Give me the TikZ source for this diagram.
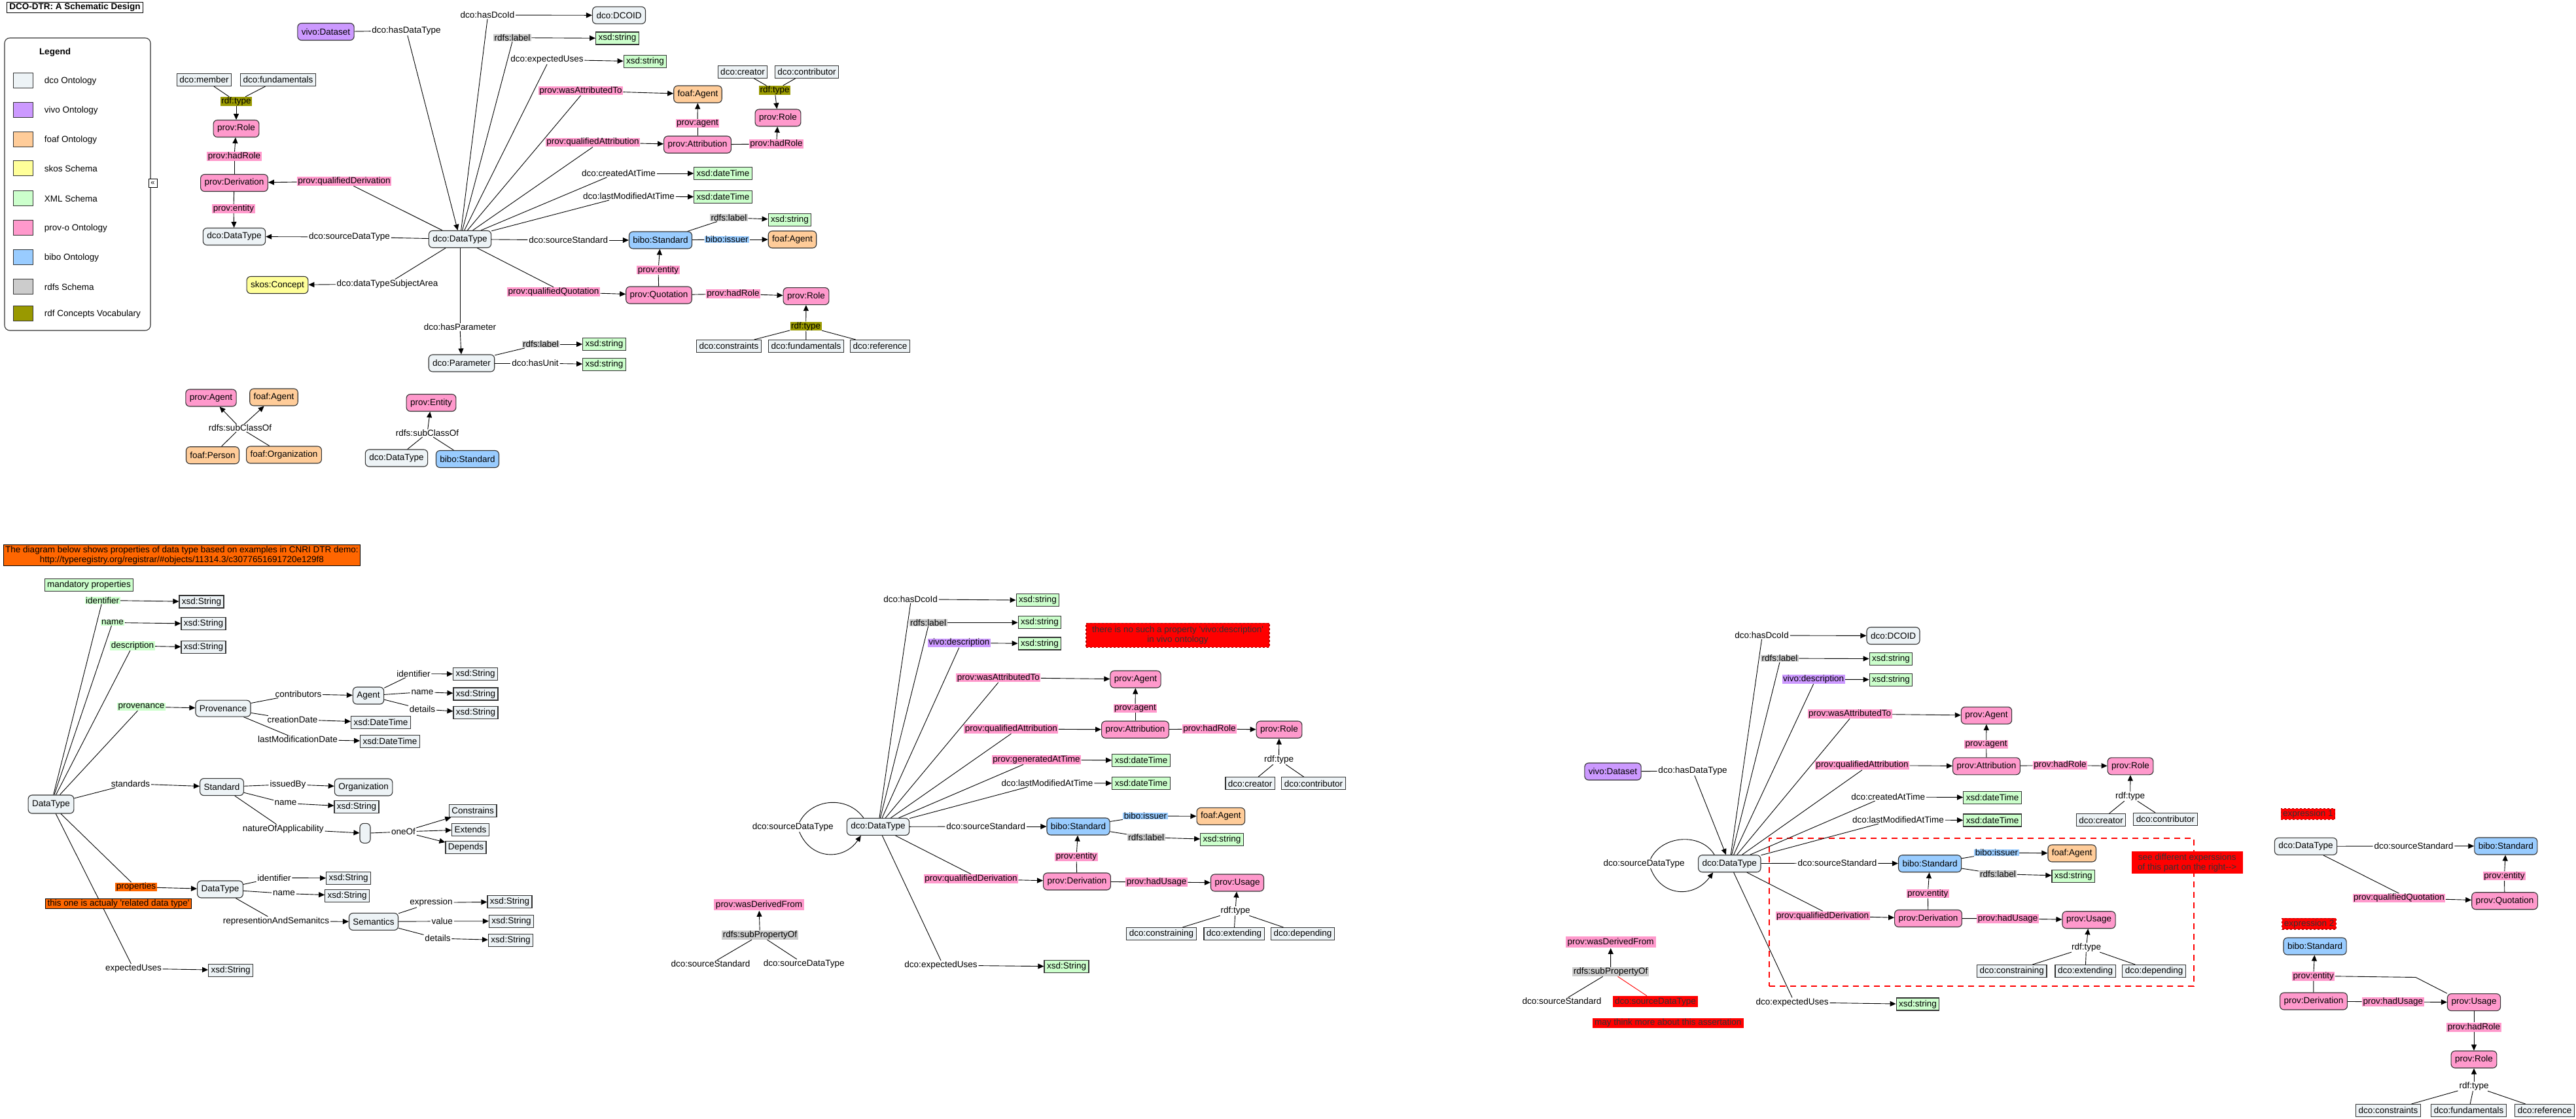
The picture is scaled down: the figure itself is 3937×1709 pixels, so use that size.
\documentclass[tikz,border=0pt]{standalone}
\usepackage{fontspec}
\setmainfont{Liberation Sans}
\usepackage{xcolor}
\usepackage{tikz}
\usetikzlibrary{arrows.meta}
\definecolor{dcoC}{RGB}{237,243,246}
\definecolor{vivoC}{RGB}{204,153,255}
\definecolor{foafC}{RGB}{255,204,153}
\definecolor{skosC}{RGB}{255,255,153}
\definecolor{xmlC}{RGB}{204,255,204}
\definecolor{provC}{RGB}{255,153,204}
\definecolor{biboC}{RGB}{153,204,255}
\definecolor{rdfsC}{RGB}{204,204,204}
\definecolor{rdfC}{RGB}{153,153,0}
\definecolor{noteC}{RGB}{255,102,0}
\definecolor{redC}{RGB}{255,0,0}
\definecolor{lineC}{RGB}{51,51,51}
\newcommand{\dtrfont}{\fontsize{13.5}{15}\selectfont}
\newcommand{\q}{\textquotesingle}
\tikzset{
    cnode/.style = {align=center, draw=lineC, line width=1.1pt, rounded corners=6pt, inner xsep=6pt, inner ysep=0pt, minimum height=26pt},
    dco_node/.style = {cnode, fill=dcoC},
    vivo_node/.style = {cnode, fill=vivoC},
    foaf_node/.style = {cnode, fill=foafC},
    skos_node/.style = {cnode, fill=skosC},
    prov_node/.style = {cnode, fill=provC},
    bibo_node/.style = {cnode, fill=biboC},
    lnode/.style = {align=center, draw=lineC, line width=1.1pt, inner xsep=4pt, inner ysep=0pt, minimum height=19pt},
    dco_lit/.style = {lnode, fill=dcoC},
    xsd_lit/.style = {lnode, fill=xmlC},
    tlbl/.style = {align=center, inner xsep=1.5pt, inner ysep=0.5pt},
    prov_lbl/.style = {tlbl, fill=provC},
    rdfs_lbl/.style = {tlbl, fill=rdfsC},
    rdf_lbl/.style = {tlbl, fill=rdfC},
    bibo_lbl/.style = {tlbl, fill=biboC},
    vivo_lbl/.style = {tlbl, fill=vivoC},
    xml_lbl/.style = {tlbl, fill=xmlC},
    orange_lbl/.style = {tlbl, fill=noteC},
    note_box/.style = {align=center, draw=black, line width=1pt, fill=noteC, inner xsep=3pt, inner ysep=2pt},
    red_box/.style = {align=center, fill=redC, text=black!80, inner xsep=3pt, inner ysep=2pt},
    red_dash/.style = {red_box, draw=red!70!black, dashed, line width=1.2pt},
    swatch/.style = {draw=lineC, line width=1pt, minimum width=30pt, minimum height=23pt, inner sep=0pt}
}
\begin{document}
\begin{tikzpicture}[x=1pt, y=-1pt, font=\dtrfont, line width=0.9pt, >={Triangle[length=9pt,width=8pt]}]
\useasboundingbox (0,0) rectangle (3937,1709);
% title and legend
\node [draw=black, line width=1pt, inner xsep=4pt, inner ysep=2pt, font=\dtrfont\bfseries] (title) at (114.5,11.5) {DCO-DTR: A Schematic Design};
\node [draw=lineC, line width=1.1pt, rounded corners=8pt, minimum width=223pt, minimum height=447pt] (legend) at (118.5,281.5) {};
\node [font=\dtrfont\bfseries] (leg_title) at (84,80) {Legend};
\node [swatch, fill=dcoC] (sw_dco) at (35,123) {};
\node [anchor=west] (lt_dco) at (64,124) {dco Ontology};
\node [swatch, fill=vivoC] (sw_vivo) at (35,168) {};
\node [anchor=west] (lt_vivo) at (64,169) {vivo Ontology};
\node [swatch, fill=foafC] (sw_foaf) at (35,213) {};
\node [anchor=west] (lt_foaf) at (64,214) {foaf Ontology};
\node [swatch, fill=skosC] (sw_skos) at (35,257) {};
\node [anchor=west] (lt_skos) at (64,258) {skos Schema};
\node [swatch, fill=xmlC] (sw_xml) at (35,303) {};
\node [anchor=west] (lt_xml) at (64,304) {XML Schema};
\node [swatch, fill=provC] (sw_prov) at (35,348) {};
\node [anchor=west] (lt_prov) at (64,349) {prov-o Ontology};
\node [swatch, fill=biboC] (sw_bibo) at (35,393) {};
\node [anchor=west] (lt_bibo) at (64,394) {bibo Ontology};
\node [swatch, fill=rdfsC] (sw_rdfs) at (35,438) {};
\node [anchor=west] (lt_rdfs) at (64,439) {rdfs Schema};
\node [swatch, fill=rdfC] (sw_rdf) at (35,479) {};
\node [anchor=west] (lt_rdf) at (64,480) {rdf Concepts Vocabulary};
\node [draw=black, fill=white, line width=0.8pt, inner sep=0.5pt, minimum size=13pt, font=\fontsize{11}{11}\selectfont] (leg_icon) at (233.5,280) {«};
% top part
\node [dco_lit] (t_member) at (312,122) {dco:member};
\node [dco_lit] (t_fund) at (425,122) {dco:fundamentals};
\node [rdf_lbl] (t_type1) at (361,155) {rdf:type};
\node [prov_node] (t_role1) at (361,196.5) {prov:Role};
\node [prov_lbl] (t_hadrole1) at (358,239) {prov:hadRole};
\node [prov_node] (t_deriv) at (358,279.5) {prov:Derivation};
\node [prov_lbl] (t_qderiv) at (526,277) {prov:qualifiedDerivation};
\node [prov_lbl] (t_entity1) at (357,319) {prov:entity};
\node [dco_node] (t_dt1) at (358,361.5) {dco:DataType};
\node [tlbl] (t_sdt) at (534,362) {dco:sourceDataType};
\node [dco_node] (t_dt) at (703,365.5) {dco:DataType};
\node [vivo_node] (t_vivo) at (498,48.5) {vivo:Dataset};
\node [tlbl] (t_hdt) at (621,47) {dco:hasDataType};
\node [tlbl] (t_hasid) at (745,23) {dco:hasDcoId};
\node [dco_node] (t_dcoid) at (946,23.4) {dco:DCOID};
\node [rdfs_lbl] (t_label1) at (783,57.6) {rdfs:label};
\node [xsd_lit] (t_str1) at (943.5,58.5) {xsd:string};
\node [tlbl] (t_uses) at (836,91) {dco:expectedUses};
\node [xsd_lit] (t_str2) at (986,94) {xsd:string};
\node [prov_lbl] (t_attto) at (887.5,138.7) {prov:wasAttributedTo};
\node [foaf_node] (t_agent) at (1066.5,144) {foaf:Agent};
\node [prov_lbl] (t_qattr) at (906,217.5) {prov:qualifiedAttribution};
\node [prov_node] (t_attr) at (1066,221) {prov:Attribution};
\node [prov_lbl] (t_agentp) at (1066,188.5) {prov:agent};
\node [prov_lbl] (t_hadrole2) at (1186.6,220) {prov:hadRole};
\node [prov_node] (t_role2) at (1189,180) {prov:Role};
\node [rdf_lbl] (t_type2) at (1184,138) {rdf:type};
\node [dco_lit] (t_creator) at (1135,110) {dco:creator};
\node [dco_lit] (t_contrib) at (1233,110) {dco:contributor};
\node [tlbl] (t_created) at (945.5,265) {dco:createdAtTime};
\node [xsd_lit] (t_dtime1) at (1105,265) {xsd:dateTime};
\node [tlbl] (t_lastmod) at (961,300) {dco:lastModifiedAtTime};
\node [xsd_lit] (t_dtime2) at (1105,301) {xsd:dateTime};
\node [tlbl] (t_srcstd) at (868.7,367) {dco:sourceStandard};
\node [bibo_node] (t_std) at (1009.5,367) {bibo:Standard};
\node [rdfs_lbl] (t_label2) at (1114,332.7) {rdfs:label};
\node [xsd_lit] (t_str3) at (1207,336) {xsd:string};
\node [bibo_lbl] (t_issuer) at (1111,366) {bibo:issuer};
\node [foaf_node] (t_agent2) at (1211,366) {foaf:Agent};
\node [prov_lbl] (t_entity2) at (1006,412.6) {prov:entity};
\node [prov_node] (t_quot) at (1007,451) {prov:Quotation};
\node [prov_lbl] (t_qquot) at (846,446) {prov:qualifiedQuotation};
\node [prov_lbl] (t_hadrole3) at (1120.5,449) {prov:hadRole};
\node [prov_node] (t_role3) at (1232,452.6) {prov:Role};
\node [rdf_lbl] (t_type3) at (1231.7,498.5) {rdf:type};
\node [dco_lit] (t_constr) at (1114,529) {dco:constraints};
\node [dco_lit] (t_fund2) at (1232,529) {dco:fundamentals};
\node [dco_lit] (t_ref) at (1345,529) {dco:reference};
\node [tlbl] (t_hasparam) at (703,500) {dco:hasParameter};
\node [dco_node] (t_param) at (705.5,555) {dco:Parameter};
\node [rdfs_lbl] (t_label3) at (826.5,526) {rdfs:label};
\node [xsd_lit] (t_str4) at (923.5,526) {xsd:string};
\node [tlbl] (t_unit) at (818,555) {dco:hasUnit};
\node [xsd_lit] (t_str5) at (923.5,556.7) {xsd:string};
\node [tlbl] (t_subj) at (592,434) {dco:dataTypeSubjectArea};
\node [skos_node] (t_concept) at (424,435.5) {skos:Concept};
\node [prov_node] (t_pagent) at (322.5,608) {prov:Agent};
\node [foaf_node] (t_fagent) at (418.5,607) {foaf:Agent};
\node [tlbl] (t_sub1) at (367,654) {rdfs:subClassOf};
\node [foaf_node] (t_person) at (325,695.7) {foaf:Person};
\node [foaf_node] (t_org) at (434,695) {foaf:Organization};
\node [prov_node] (t_pentity) at (659,615.5) {prov:Entity};
\node [tlbl] (t_sub2) at (653,662) {rdfs:subClassOf};
\node [dco_node] (t_dt2) at (606,700) {dco:DataType};
\node [bibo_node] (t_std2) at (714.5,701.5) {bibo:Standard};
\draw (t_member) -- (t_type1);
\draw (t_fund) -- (t_type1);
\draw [->] (t_type1) -- (t_role1);
\draw (t_deriv) -- (t_hadrole1);
\draw [->] (t_hadrole1) -- (t_role1);
\draw (t_dt) -- (t_qderiv);
\draw [->] (t_qderiv) -- (t_deriv);
\draw (t_deriv) -- (t_entity1);
\draw [->] (t_entity1) -- (t_dt1);
\draw (t_dt) -- (t_sdt);
\draw [->] (t_sdt) -- (t_dt1);
\draw (t_vivo) -- (t_hdt);
\draw [->] (t_hdt) -- (t_dt);
\draw (t_dt) -- (t_hasid.south);
\draw [->] (t_hasid) -- (t_dcoid);
\draw (t_dt) -- (t_label1.south);
\draw [->] (t_label1) -- (t_str1);
\draw (t_dt) -- (t_uses.south);
\draw [->] (t_uses) -- (t_str2);
\draw (t_dt) -- (t_attto.south);
\draw [->] (t_attto) -- (t_agent);
\draw (t_dt) -- (t_qattr.south);
\draw [->] (t_qattr) -- (t_attr);
\draw (t_attr) -- (t_agentp);
\draw [->] (t_agentp) -- (t_agent);
\draw (t_attr) -- (t_hadrole2);
\draw [->] (t_hadrole2) -- (t_role2);
\draw (t_creator) -- (t_type2);
\draw (t_contrib) -- (t_type2);
\draw [->] (t_type2) -- (t_role2);
\draw (t_dt) -- ([xshift=-18pt]t_created.south);
\draw [->] (t_created) -- (t_dtime1);
\draw (t_dt) -- ([xshift=-30pt]t_lastmod.south);
\draw [->] (t_lastmod) -- (t_dtime2);
\draw (t_dt) -- (t_srcstd);
\draw [->] (t_srcstd) -- (t_std);
\draw (t_std) -- (t_label2);
\draw [->] (t_label2) -- (t_str3);
\draw (t_std) -- (t_issuer);
\draw [->] (t_issuer) -- (t_agent2);
\draw (t_quot) -- (t_entity2);
\draw [->] (t_entity2) -- (t_std);
\draw (t_dt) -- (t_qquot.north);
\draw [->] (t_qquot) -- (t_quot);
\draw (t_quot) -- (t_hadrole3);
\draw [->] (t_hadrole3) -- (t_role3);
\draw [->] (t_type3) -- (t_role3);
\draw (t_constr) -- (t_type3);
\draw (t_fund2) -- (t_type3);
\draw (t_ref) -- (t_type3);
\draw (t_dt) -- (t_hasparam);
\draw [->] (t_hasparam) -- (t_param);
\draw (t_param) -- (t_label3);
\draw [->] (t_label3) -- (t_str4);
\draw (t_param) -- (t_unit);
\draw [->] (t_unit) -- (t_str5);
\draw (t_dt) -- (t_subj);
\draw [->] (t_subj) -- (t_concept);
\draw (t_person) -- (t_sub1);
\draw (t_org) -- (t_sub1);
\draw [->] (t_sub1) -- (t_pagent);
\draw [->] (t_sub1) -- (t_fagent);
\draw (t_dt2) -- (t_sub2);
\draw (t_std2) -- (t_sub2);
\draw [->] (t_sub2) -- (t_pentity);
% bottom left, CNRI DTR demo
\node [note_box] (b_note) at (278,848.5) {The diagram below shows properties of data type based on examples in CNRI DTR demo:\\http://typeregistry.org/registrar/\#objects/11314.3/c3077651691720e129f8};
\node [xsd_lit] (b_mand) at (136,894) {mandatory properties};
\node [xml_lbl] (b_id) at (156.6,917.4) {identifier};
\node [dco_lit] (b_s1) at (308,919.5) {xsd:String};
\node [xml_lbl] (b_name) at (172,951.4) {name};
\node [dco_lit] (b_s2) at (311,953.3) {xsd:String};
\node [xml_lbl] (b_desc) at (202.6,987) {description};
\node [dco_lit] (b_s3) at (311,989) {xsd:String};
\node [xml_lbl] (b_prov) at (216,1080) {provenance};
\node [dco_node, minimum height=25pt] (b_provn) at (341,1082.6) {Provenance};
\node [tlbl] (b_contr) at (456,1060.6) {contributors};
\node [dco_node] (b_agent) at (563,1063) {Agent};
\node [tlbl] (b_aid) at (632,1029.6) {identifier};
\node [dco_lit] (b_s4) at (726.6,1030) {xsd:String};
\node [tlbl] (b_aname) at (645.5,1057.5) {name};
\node [dco_lit] (b_s5) at (727,1060.5) {xsd:String};
\node [tlbl] (b_adet) at (645.5,1083.8) {details};
\node [dco_lit] (b_s6) at (727,1089) {xsd:String};
\node [tlbl] (b_cdate) at (447,1099.5) {creationDate};
\node [dco_lit] (b_dt1) at (582,1104) {xsd:DateTime};
\node [tlbl] (b_lmdate) at (455,1130) {lastModificationDate};
\node [dco_lit] (b_dt2) at (596,1133) {xsd:DateTime};
\node [dco_node, minimum height=28pt] (b_root) at (78,1229) {DataType};
\node [tlbl] (b_stds) at (199.5,1197.7) {standards};
\node [dco_node] (b_std) at (339,1202.6) {Standard};
\node [tlbl] (b_issued) at (440,1198.6) {issuedBy};
\node [dco_node] (b_org) at (555.6,1203) {Organization};
\node [tlbl] (b_sname) at (436.5,1227.4) {name};
\node [dco_lit] (b_s7) at (545,1233) {xsd:String};
\node [tlbl] (b_nature) at (432.8,1266.7) {natureOfApplicability};
\node [dco_node, minimum width=16pt, minimum height=30pt, inner sep=0pt] (b_blank) at (558,1273.3) {};
\node [tlbl] (b_oneof) at (616.4,1271) {oneOf};
\node [dco_lit] (b_constr) at (722.7,1239) {Constrains};
\node [dco_lit] (b_ext) at (719,1267.6) {Extends};
\node [dco_lit] (b_dep) at (712,1295) {Depends};
\node [orange_lbl] (b_props) at (208,1355.4) {properties};
\node [dco_node] (b_dt) at (336.5,1359) {DataType};
\node [tlbl] (b_pid) at (419,1341.4) {identifier};
\node [dco_lit] (b_s8) at (532.7,1342) {xsd:String};
\node [tlbl] (b_pname) at (434,1365.4) {name};
\node [dco_lit] (b_s9) at (530.7,1368.7) {xsd:String};
\node [tlbl] (b_rep) at (422,1407.8) {representionAndSemanitcs};
\node [dco_node] (b_sem) at (571,1408.4) {Semantics};
\node [tlbl] (b_expr) at (659,1379.4) {expression};
\node [dco_lit] (b_s10) at (779,1378) {xsd:String};
\node [tlbl] (b_val) at (675.7,1407.8) {value};
\node [dco_lit] (b_s11) at (781.5,1407.6) {xsd:String};
\node [tlbl] (b_sdet) at (669,1434) {details};
\node [dco_lit] (b_s12) at (780.5,1437) {xsd:String};
\node [tlbl] (b_uses) at (204,1480) {expectedUses};
\node [dco_lit] (b_s13) at (352.6,1482.6) {xsd:String};
\draw (b_root) -- (b_id);
\draw [->] (b_id) -- (b_s1);
\draw (b_root) -- (b_name);
\draw [->] (b_name) -- (b_s2);
\draw (b_root) -- (b_desc);
\draw [->] (b_desc) -- (b_s3);
\draw (b_root) -- (b_prov);
\draw [->] (b_prov) -- (b_provn);
\draw (b_provn) -- (b_contr);
\draw [->] (b_contr) -- (b_agent);
\draw (b_agent) -- (b_aid);
\draw [->] (b_aid) -- (b_s4);
\draw (b_agent) -- (b_aname);
\draw [->] (b_aname) -- (b_s5);
\draw (b_agent) -- (b_adet);
\draw [->] (b_adet) -- (b_s6);
\draw (b_provn) -- (b_cdate);
\draw [->] (b_cdate) -- (b_dt1);
\draw (b_provn) -- (b_lmdate);
\draw [->] (b_lmdate) -- (b_dt2);
\draw (b_root) -- (b_stds);
\draw [->] (b_stds) -- (b_std);
\draw (b_std) -- (b_issued);
\draw [->] (b_issued) -- (b_org);
\draw (b_std) -- (b_sname);
\draw [->] (b_sname) -- (b_s7);
\draw (b_std) -- (b_nature);
\draw [->] (b_nature) -- (b_blank);
\draw (b_blank) -- (b_oneof);
\draw [->] (b_oneof) -- (b_constr);
\draw [->] (b_oneof) -- (b_ext);
\draw [->] (b_oneof) -- (b_dep);
\draw (b_root) -- (b_props);
\draw [->] (b_props) -- (b_dt);
\draw (b_dt) -- (b_pid);
\draw [->] (b_pid) -- (b_s8);
\draw (b_dt) -- (b_pname);
\draw [->] (b_pname) -- (b_s9);
\draw (b_dt) -- (b_rep);
\draw [->] (b_rep) -- (b_sem);
\draw (b_sem) -- (b_expr);
\draw [->] (b_expr) -- (b_s10);
\draw (b_sem) -- (b_val);
\draw [->] (b_val) -- (b_s11);
\draw (b_sem) -- (b_sdet);
\draw [->] (b_sdet) -- (b_s12);
\draw (b_root) -- (b_uses);
\draw [->] (b_uses) -- (b_s13);
\node [note_box, inner ysep=1pt] (b_rel) at (181,1381) {this one is actualy \q related data type\q};
% bottom middle
\node [dco_node] (c_dt) at (1342,1263.4) {dco:DataType};
\node [tlbl] (c_sdt) at (1211.7,1264) {dco:sourceDataType};
\node [tlbl] (c_hasid) at (1391.7,915.7) {dco:hasDcoId};
\node [xsd_lit] (c_str1) at (1586,917.3) {xsd:string};
\node [rdfs_lbl] (c_label1) at (1418.6,951.4) {rdfs:label};
\node [xsd_lit] (c_str2) at (1589,951.4) {xsd:string};
\node [vivo_lbl] (c_desc) at (1465.8,982.4) {vivo:description};
\node [xsd_lit] (c_str3) at (1589,983.5) {xsd:string};
\node [red_dash, minimum width=280pt, minimum height=37pt] (c_note) at (1800,970.6) {there is no such a property \q vivo:description\q\\in vivo ontology};
\node [prov_lbl] (c_attto) at (1525.8,1035.6) {prov:wasAttributedTo};
\node [prov_node] (c_pagent) at (1735.5,1038) {prov:Agent};
\node [prov_lbl] (c_agentp) at (1735,1082.4) {prov:agent};
\node [prov_lbl] (c_qattr) at (1545.4,1114) {prov:qualifiedAttribution};
\node [prov_node] (c_attr) at (1735,1115) {prov:Attribution};
\node [prov_lbl] (c_hadrole) at (1848.5,1114) {prov:hadRole};
\node [prov_node] (c_role) at (1955,1115) {prov:Role};
\node [tlbl] (c_type1) at (1954.5,1161) {rdf:type};
\node [dco_lit] (c_creator) at (1910.7,1197.4) {dco:creator};
\node [dco_lit] (c_contrib) at (2007.5,1197.4) {dco:contributor};
\node [prov_lbl] (c_gen) at (1584,1161) {prov:generatedAtTime};
\node [xsd_lit] (c_dtime1) at (1744,1162) {xsd:dateTime};
\node [tlbl] (c_lastmod) at (1600.5,1196.7) {dco:lastModifiedAtTime};
\node [xsd_lit] (c_dtime2) at (1744,1197) {xsd:dateTime};
\node [tlbl] (c_srcstd) at (1506.8,1263) {dco:sourceStandard};
\node [bibo_node] (c_std) at (1648,1263) {bibo:Standard};
\node [bibo_lbl] (c_issuer) at (1750.5,1247) {bibo:issuer};
\node [foaf_node] (c_agent) at (1865.8,1247.4) {foaf:Agent};
\node [rdfs_lbl] (c_label2) at (1751.7,1279.6) {rdfs:label};
\node [xsd_lit] (c_str4) at (1867.6,1283) {xsd:string};
\node [prov_lbl] (c_entity) at (1645,1309.4) {prov:entity};
\node [prov_node] (c_deriv) at (1646,1347) {prov:Derivation};
\node [prov_lbl] (c_qderiv) at (1484,1343) {prov:qualifiedDerivation};
\node [prov_lbl] (c_hadusage) at (1767.7,1348) {prov:hadUsage};
\node [prov_node] (c_usage) at (1891,1349) {prov:Usage};
\node [tlbl] (c_type2) at (1888,1392) {rdf:type};
\node [dco_lit] (c_constr) at (1775,1427) {dco:constraining};
\node [dco_lit] (c_ext) at (1886,1427) {dco:extending};
\node [dco_lit] (c_dep) at (1991,1427) {dco:depending};
\node [tlbl] (c_uses) at (1438,1475) {dco:expectedUses};
\node [xsd_lit] (c_str5) at (1630,1477) {xsd:String};
\node [prov_lbl, inner xsep=3pt, inner ysep=2.5pt] (c_derfrom) at (1160,1382.5) {prov:wasDerivedFrom};
\node [rdfs_lbl] (c_subprop) at (1161.4,1428.8) {rdfs:subPropertyOf};
\node [tlbl] (c_ss) at (1086,1473) {dco:sourceStandard};
\node [tlbl] (c_sdt2) at (1228.8,1473) {dco:sourceDataType};
\draw ([xshift=26pt]c_dt.north west) .. controls (1295,1215) and (1240,1220) .. ([xshift=10pt]c_sdt.north);
\draw [->] ([xshift=10pt]c_sdt.south) .. controls (1240,1315) and (1290,1315) .. ([xshift=22pt]c_dt.south west);
\draw (c_dt) -- (c_hasid.south);
\draw [->] (c_hasid) -- (c_str1);
\draw (c_dt) -- (c_label1.south);
\draw [->] (c_label1) -- (c_str2);
\draw (c_dt) -- (c_desc.south);
\draw [->] (c_desc) -- (c_str3);
\draw (c_dt) -- (c_attto.south);
\draw [->] (c_attto) -- (c_pagent);
\draw (c_dt) -- (c_qattr.south);
\draw [->] (c_qattr) -- (c_attr);
\draw (c_attr) -- (c_agentp);
\draw [->] (c_agentp) -- (c_pagent);
\draw (c_attr) -- (c_hadrole);
\draw [->] (c_hadrole) -- (c_role);
\draw [->] (c_type1) -- (c_role);
\draw (c_creator) -- (c_type1);
\draw (c_contrib) -- (c_type1);
\draw (c_dt) -- ([xshift=-20pt]c_gen.south);
\draw [->] (c_gen) -- (c_dtime1);
\draw (c_dt) -- ([xshift=-30pt]c_lastmod.south);
\draw [->] (c_lastmod) -- (c_dtime2);
\draw (c_dt) -- (c_srcstd);
\draw [->] (c_srcstd) -- (c_std);
\draw (c_std) -- (c_issuer);
\draw [->] (c_issuer) -- (c_agent);
\draw (c_std) -- (c_label2);
\draw [->] (c_label2) -- (c_str4);
\draw (c_deriv) -- (c_entity);
\draw [->] (c_entity) -- (c_std);
\draw (c_dt) -- (c_qderiv.north);
\draw [->] (c_qderiv) -- (c_deriv);
\draw (c_deriv) -- (c_hadusage);
\draw [->] (c_hadusage) -- (c_usage);
\draw [->] (c_type2) -- (c_usage);
\draw (c_constr) -- (c_type2);
\draw (c_ext) -- (c_type2);
\draw (c_dep) -- (c_type2);
\draw (c_dt) -- (c_uses.north);
\draw [->] (c_uses) -- (c_str5);
\draw [->] (c_subprop) -- (c_derfrom);
\draw (c_ss) -- (c_subprop);
\draw (c_sdt2) -- (c_subprop);
% bottom right
\node [draw=redC, line width=2pt, dash pattern=on 9pt off 7pt, minimum width=649pt, minimum height=226pt] (d_frame) at (3028.5,1394) {};
\node [tlbl] (d_hasid) at (2692.5,971) {dco:hasDcoId};
\node [dco_node] (d_dcoid) at (2893.5,971.5) {dco:DCOID};
\node [rdfs_lbl] (d_label1) at (2720,1006) {rdfs:label};
\node [xsd_lit] (d_str1) at (2890,1006.7) {xsd:string};
\node [vivo_lbl] (d_desc) at (2771.6,1038) {vivo:description};
\node [xsd_lit] (d_str2) at (2890,1038.7) {xsd:string};
\node [prov_lbl] (d_attto) at (2827,1091) {prov:wasAttributedTo};
\node [prov_node] (d_pagent) at (3036,1093.3) {prov:Agent};
\node [prov_lbl] (d_agentp) at (3035.6,1137.6) {prov:agent};
\node [prov_lbl] (d_qattr) at (2846,1169.4) {prov:qualifiedAttribution};
\node [prov_node] (d_attr) at (3036,1170.8) {prov:Attribution};
\node [prov_lbl] (d_hadrole) at (3148.5,1169.4) {prov:hadRole};
\node [prov_node] (d_role) at (3256,1170.8) {prov:Role};
\node [tlbl] (d_type1) at (3255.6,1216.9) {rdf:type};
\node [dco_lit] (d_creator) at (3211,1253.3) {dco:creator};
\node [dco_lit] (d_contrib) at (3309.5,1252) {dco:contributor};
\node [tlbl] (d_created) at (2885.7,1218) {dco:createdAtTime};
\node [xsd_lit] (d_dtime1) at (3045,1218.6) {xsd:dateTime};
\node [tlbl] (d_lastmod) at (2901,1253) {dco:lastModifiedAtTime};
\node [xsd_lit] (d_dtime2) at (3045,1253.5) {xsd:dateTime};
\node [vivo_node] (d_vivo) at (2465,1179) {vivo:Dataset};
\node [tlbl] (d_hdt) at (2587,1178) {dco:hasDataType};
\node [dco_node] (d_dt) at (2643.3,1319.7) {dco:DataType};
\node [tlbl] (d_sdt) at (2512.6,1319.8) {dco:sourceDataType};
\node [tlbl] (d_srcstd) at (2808,1319) {dco:sourceStandard};
\node [bibo_node] (d_std) at (2949.5,1319.7) {bibo:Standard};
\node [bibo_lbl] (d_issuer) at (3051.5,1303) {bibo:issuer};
\node [foaf_node] (d_agent) at (3166.7,1304) {foaf:Agent};
\node [rdfs_lbl] (d_label2) at (3053.4,1335.5) {rdfs:label};
\node [xsd_lit] (d_str3) at (3168.8,1338.7) {xsd:string};
\node [prov_lbl] (d_entity) at (2946.3,1365.6) {prov:entity};
\node [prov_node] (d_deriv) at (2947,1403.5) {prov:Derivation};
\node [prov_lbl] (d_qderiv) at (2785.6,1399.5) {prov:qualifiedDerivation};
\node [prov_lbl] (d_hadusage) at (3068.7,1403.7) {prov:hadUsage};
\node [prov_node] (d_usage) at (3192.5,1405.7) {prov:Usage};
\node [tlbl] (d_type2) at (3188.6,1447.8) {rdf:type};
\node [dco_lit] (d_constr) at (3074.8,1484) {dco:constraining};
\node [dco_lit] (d_ext) at (3187,1484) {dco:extending};
\node [dco_lit] (d_dep) at (3292,1484) {dco:depending};
\node [tlbl] (d_uses) at (2739,1531.7) {dco:expectedUses};
\node [xsd_lit] (d_str4) at (2931,1534.5) {xsd:string};
\node [prov_lbl, inner xsep=3pt, inner ysep=2.5pt] (d_derfrom) at (2461.7,1439.6) {prov:wasDerivedFrom};
\node [rdfs_lbl] (d_subprop) at (2461.6,1485) {rdfs:subPropertyOf};
\node [tlbl] (d_ss) at (2387,1530) {dco:sourceStandard};
\node [red_box] (d_sdt2) at (2530,1530.5) {dco:sourceDataType};
\node [red_box, inner ysep=1.5pt] (d_may) at (2549.3,1563.4) {may think more about this assertation};
\draw ([xshift=25pt]d_dt.north west) .. controls (2600,1272) and (2540,1276) .. ([xshift=10pt]d_sdt.north);
\draw [->] ([xshift=10pt]d_sdt.south) .. controls (2540,1372) and (2590,1372) .. ([xshift=23pt]d_dt.south west);
\draw (d_vivo) -- (d_hdt);
\draw [->] (d_hdt) -- (d_dt);
\draw (d_dt) -- (d_hasid.south);
\draw [->] (d_hasid) -- (d_dcoid);
\draw (d_dt) -- (d_label1.south);
\draw [->] (d_label1) -- (d_str1);
\draw (d_dt) -- (d_desc.south);
\draw [->] (d_desc) -- (d_str2);
\draw (d_dt) -- (d_attto.south);
\draw [->] (d_attto) -- (d_pagent);
\draw (d_dt) -- (d_qattr.south);
\draw [->] (d_qattr) -- (d_attr);
\draw (d_attr) -- (d_agentp);
\draw [->] (d_agentp) -- (d_pagent);
\draw (d_attr) -- (d_hadrole);
\draw [->] (d_hadrole) -- (d_role);
\draw [->] (d_type1) -- (d_role);
\draw (d_creator) -- (d_type1);
\draw (d_contrib) -- (d_type1);
\draw (d_dt) -- ([xshift=-20pt]d_created.south);
\draw [->] (d_created) -- (d_dtime1);
\draw (d_dt) -- ([xshift=-30pt]d_lastmod.south);
\draw [->] (d_lastmod) -- (d_dtime2);
\draw (d_dt) -- (d_srcstd);
\draw [->] (d_srcstd) -- (d_std);
\draw (d_std) -- (d_issuer);
\draw [->] (d_issuer) -- (d_agent);
\draw (d_std) -- (d_label2);
\draw [->] (d_label2) -- (d_str3);
\draw (d_deriv) -- (d_entity);
\draw [->] (d_entity) -- (d_std);
\draw (d_dt) -- (d_qderiv.north);
\draw [->] (d_qderiv) -- (d_deriv);
\draw (d_deriv) -- (d_hadusage);
\draw [->] (d_hadusage) -- (d_usage);
\draw [->] (d_type2) -- (d_usage);
\draw (d_constr) -- (d_type2);
\draw (d_ext) -- (d_type2);
\draw (d_dep) -- (d_type2);
\draw (d_dt) -- (d_uses.north);
\draw [->] (d_uses) -- (d_str4);
\draw [->] (d_subprop) -- (d_derfrom);
\draw (d_ss) -- (d_subprop);
\draw [redC] (d_sdt2) -- (d_subprop);
\node [red_box, minimum width=170pt, minimum height=34pt] (d_note) at (3342.7,1318) {see different experssions\\of this part on the right{-}{-}>};
% far right, two expressions
\node [red_dash] (e_expr1) at (3527.4,1244) {expression 1};
\node [dco_node] (e_dt) at (3524,1293.4) {dco:DataType};
\node [tlbl] (e_srcstd) at (3689,1292.8) {dco:sourceStandard};
\node [bibo_node] (e_std) at (3829.8,1293) {bibo:Standard};
\node [prov_lbl] (e_entity1) at (3827.4,1338.5) {prov:entity};
\node [prov_node] (e_quot) at (3828,1376.7) {prov:Quotation};
\node [prov_lbl] (e_qquot) at (3666.4,1372.4) {prov:qualifiedQuotation};
\node [red_dash] (e_expr2) at (3529,1411.7) {expression 2};
\node [bibo_node] (e_std2) at (3538,1446) {bibo:Standard};
\node [prov_lbl] (e_entity2) at (3535.7,1491.8) {prov:entity};
\node [prov_node] (e_deriv) at (3536,1530) {prov:Derivation};
\node [prov_lbl] (e_hadusage) at (3657.4,1531) {prov:hadUsage};
\node [prov_node] (e_usage) at (3781,1531.6) {prov:Usage};
\node [prov_lbl] (e_hadrole) at (3781,1569.7) {prov:hadRole};
\node [prov_node] (e_role) at (3781,1619) {prov:Role};
\node [tlbl] (e_type) at (3781,1660) {rdf:type};
\node [dco_lit] (e_constr) at (3650,1697) {dco:constraints};
\node [dco_lit] (e_fund) at (3773,1697) {dco:fundamentals};
\node [dco_lit] (e_ref) at (3889,1697) {dco:reference};
\coordinate (e_bend) at (3692,1493.5);
\draw (e_dt) -- (e_srcstd);
\draw [->] (e_srcstd) -- (e_std);
\draw (e_quot) -- (e_entity1);
\draw [->] (e_entity1) -- (e_std);
\draw (e_dt) -- (e_qquot.north);
\draw [->] (e_qquot) -- (e_quot);
\draw (e_deriv) -- (e_entity2);
\draw [->] (e_entity2) -- (e_std2);
\draw (e_entity2.east) -- (e_bend) -- (e_usage.north west);
\draw (e_deriv) -- (e_hadusage);
\draw [->] (e_hadusage) -- (e_usage);
\draw (e_usage) -- (e_hadrole);
\draw [->] (e_hadrole) -- (e_role);
\draw [->] (e_type) -- (e_role);
\draw (e_constr) -- (e_type);
\draw (e_fund) -- (e_type);
\draw (e_ref) -- (e_type);
\end{tikzpicture}
\end{document}
